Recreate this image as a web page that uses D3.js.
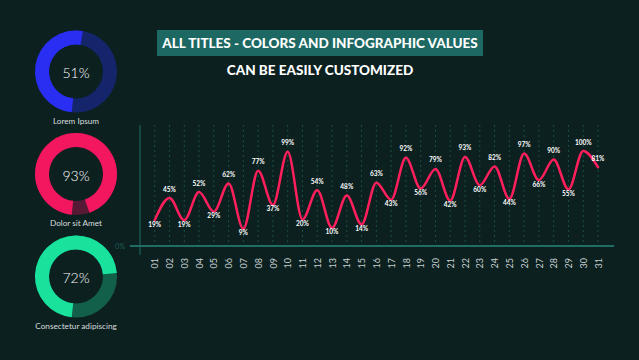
<!DOCTYPE html>
<html><head><meta charset="utf-8">
<script src="https://cdn.jsdelivr.net/npm/d3@7"></script>
<style>html,body{margin:0;padding:0;background:#0c2020;overflow:hidden}</style>
</head><body><svg id="c" width="639" height="360"></svg>
<script>
const days = ["01","02","03","04","05","06","07","08","09","10","11","12","13","14","15","16","17","18","19","20","21","22","23","24","25","26","27","28","29","30","31"];
const values = [19,45,19,52,29,62,9,77,37,99,20,54,10,48,14,63,43,92,56,79,42,93,60,82,44,97,66,90,55,100,81];
const donutNames = ["Lorem Ipsum","Dolor sit Amet","Consectetur adipiscing"];
const donutValues = [51,93,72];
const donutColors = ["#2a2ef2","#f2175f","#18e29c"];
const donutDark = ["#15256b","#561a36","#12604a"];
const titleText = "ALL TITLES - COLORS AND INFOGRAPHIC VALUES";
const subText = "CAN BE EASILY CUSTOMIZED";

const svg = d3.select("#c");
svg.append("rect").attr("width",639).attr("height",360).attr("fill","#0c2020");

// title
svg.append("rect").attr("x",157).attr("y",30).attr("width",326).attr("height",26).attr("fill","#1d6862");
svg.append("text").attr("x",320).attr("y",43).attr("text-anchor","middle").attr("dominant-baseline","central")
  .attr("fill","#fff").attr("font-family","Lato").attr("font-weight",900).attr("font-size",13.5).text(titleText);
svg.append("text").attr("x",320).attr("y",70).attr("text-anchor","middle").attr("dominant-baseline","central")
  .attr("fill","#fff").attr("font-family","Lato").attr("font-weight",900).attr("font-size",13.5).text(subText);

// donuts
const centersY = [71.5,174,276.5];
const start = 186*Math.PI/180;
donutValues.forEach((v,i)=>{
  const g = svg.append("g").attr("transform",`translate(76,${centersY[i]})`);
  const arc = d3.arc().innerRadius(27).outerRadius(41);
  g.append("path").attr("d",arc({startAngle:0,endAngle:2*Math.PI})).attr("fill",donutDark[i]);
  g.append("path").attr("d",arc({startAngle:start,endAngle:start+v/100*2*Math.PI})).attr("fill",donutColors[i]);
  g.append("text").attr("y",1).attr("text-anchor","middle").attr("dominant-baseline","central")
    .attr("fill","#fff").attr("font-family","Lato").attr("font-weight",300).attr("font-size",14).text(v+"%");
  svg.append("text").attr("x",76).attr("y",centersY[i]+49).attr("text-anchor","middle").attr("dominant-baseline","central")
    .attr("fill","#d8dede").attr("font-family","Lato").attr("font-size",8.2).text(donutNames[i]);
});

// chart
const x = d3.scalePoint().domain(days).range([154.7,598]);
const y = d3.scaleLinear().domain([0,100]).range([236.5,151]);

const grid = svg.append("g");
days.forEach(d=>{
  grid.append("line").attr("x1",x(d)).attr("x2",x(d)).attr("y1",125).attr("y2",250)
    .attr("stroke","#1d5a52").attr("stroke-width",0.8).attr("stroke-dasharray","2,3");
});
svg.append("line").attr("x1",140).attr("x2",140).attr("y1",125).attr("y2",255).attr("stroke","#1f6a62").attr("stroke-width",1);
svg.append("line").attr("x1",130).attr("x2",614).attr("y1",246).attr("y2",246).attr("stroke","#1f6d64").attr("stroke-width",2);
svg.append("text").attr("x",125).attr("y",246).attr("text-anchor","end").attr("dominant-baseline","central")
  .attr("fill","#1f5f58").attr("font-family","Lato").attr("font-size",7).text("0%");

// x axis labels
const xa = svg.append("g").attr("transform","translate(0,254)").call(d3.axisBottom(x).tickSize(0).tickPadding(0));
xa.select(".domain").remove();
xa.selectAll(".tick text").attr("transform","rotate(-90)").attr("x",-14.5).attr("y",0).attr("dy","0.35em")
  .attr("text-anchor","start").attr("fill","#c9d2d2").attr("font-family","Lato").attr("font-size",9);

// line
const line = d3.line().x((d,i)=>x(days[i])).y(d=>y(d)).curve(d3.curveMonotoneX);
svg.append("path").datum(values).attr("d",line).attr("fill","none").attr("stroke","#ff1f5c").attr("stroke-width",2.5).attr("stroke-linecap","round");

// value labels
values.forEach((v,i)=>{
  const prev = i>0?values[i-1]:-Infinity, next = i<values.length-1?values[i+1]:-Infinity;
  let peak = v>prev && v>next;
  if(i===values.length-1) peak = true;
  const yy = peak ? y(v)-9 : y(v)+4;
  svg.append("text").attr("x",x(days[i])).attr("y",yy).attr("text-anchor","middle").attr("dominant-baseline","central")
    .attr("fill","#fff").attr("font-family","Lato").attr("font-weight",700).attr("font-size",6.5).text(v+"%");
});
</script></body></html>
